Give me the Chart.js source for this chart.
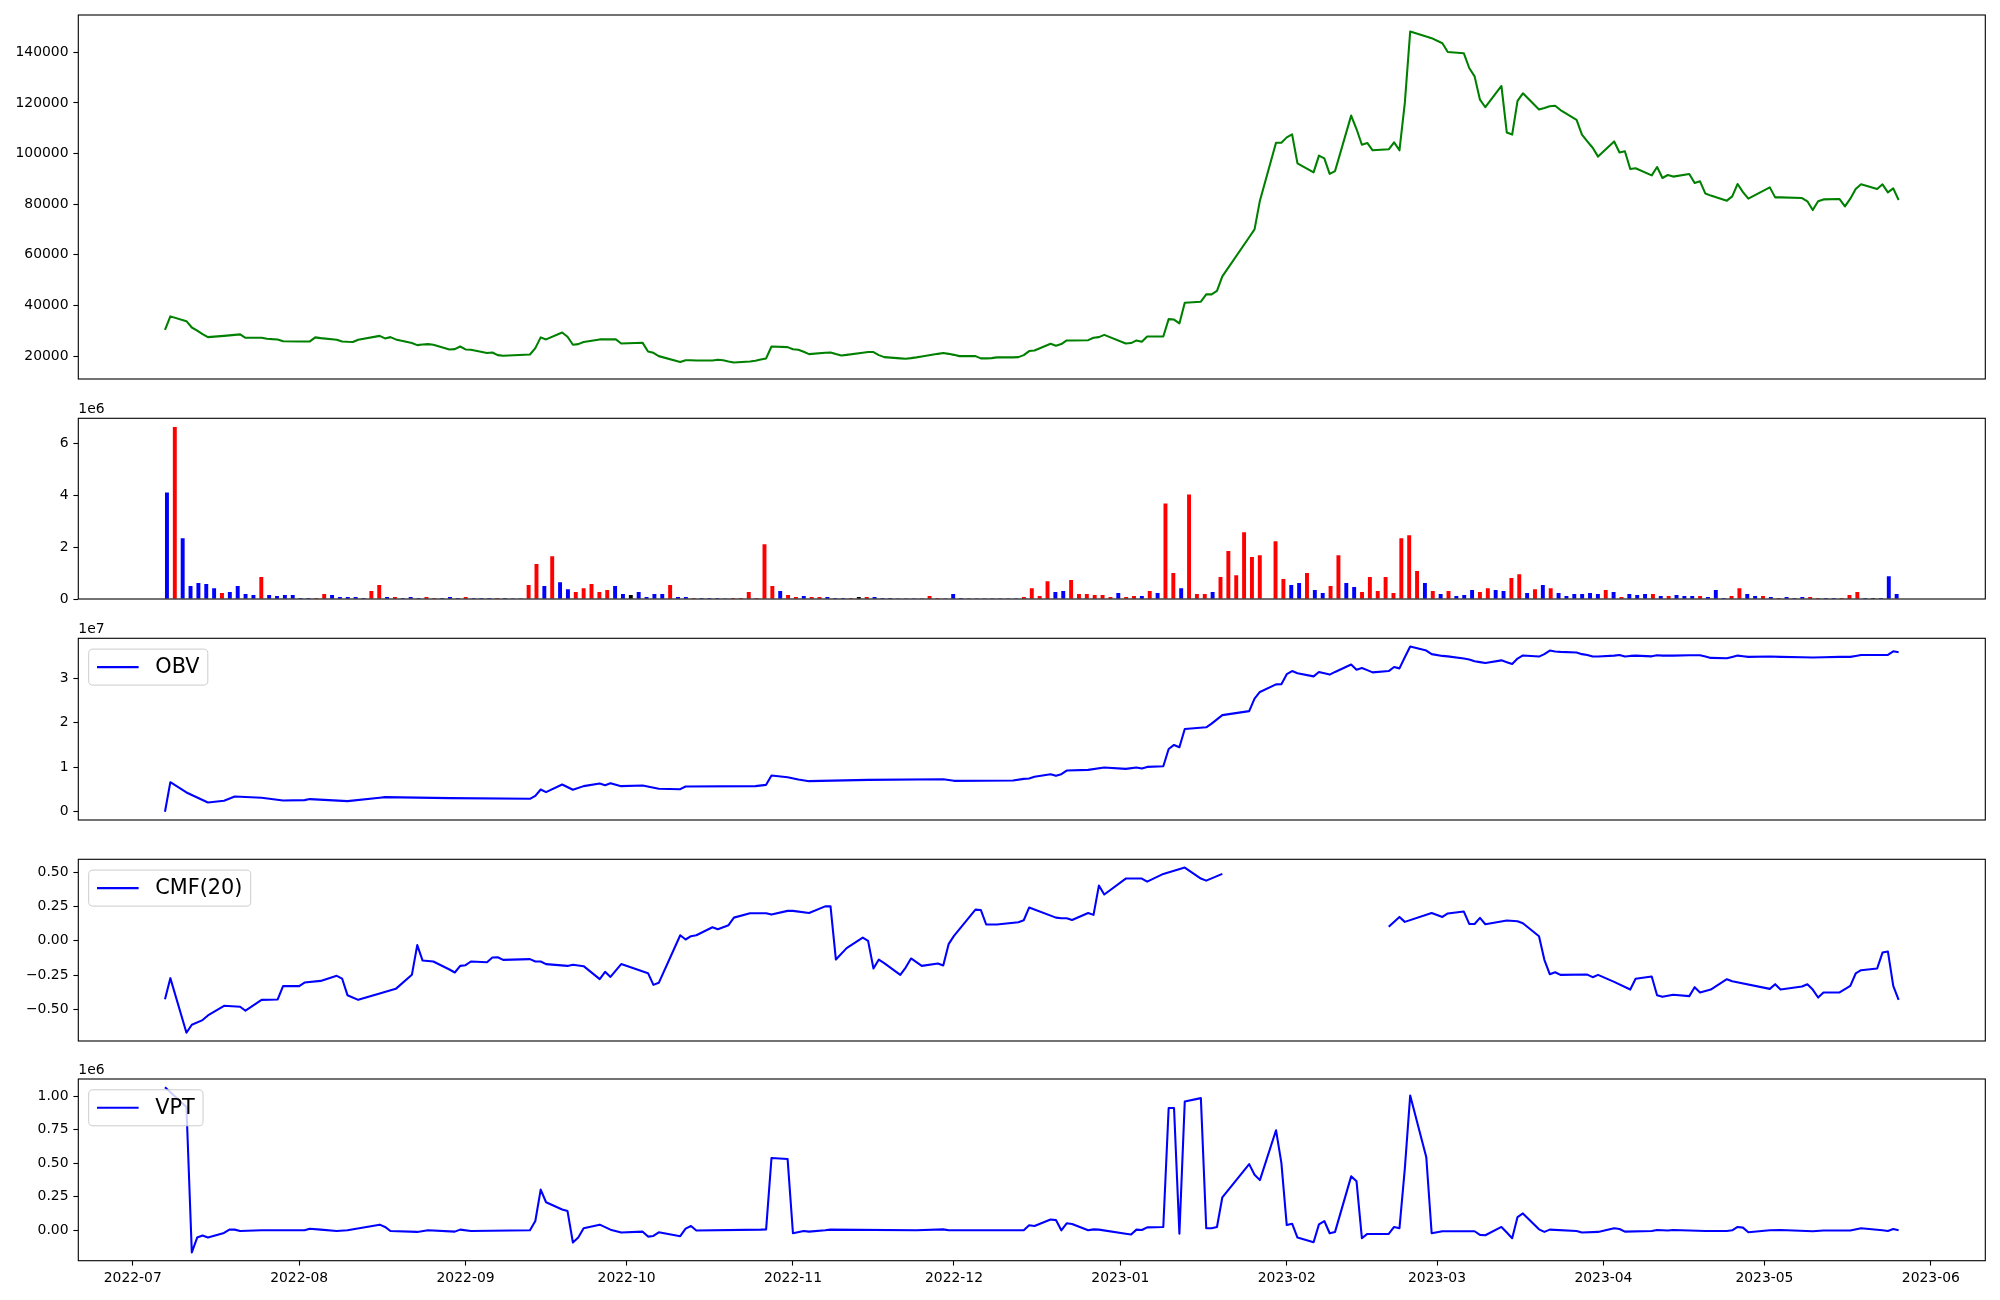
<!DOCTYPE html>
<html><head><meta charset="utf-8">
<script src="https://cdn.jsdelivr.net/npm/chart.js@4.4.1/dist/chart.umd.min.js"></script>
<style>
html,body{margin:0;padding:0;background:#fff;}
#wrap{position:relative;width:2000px;height:1300px;overflow:hidden;background:#fff;}
#wrap canvas{position:absolute;left:0;}
</style></head>
<body><div id="wrap">
<canvas id="cPrice"></canvas><canvas id="cVol"></canvas><canvas id="cObv"></canvas><canvas id="cCmf"></canvas><canvas id="cVpt"></canvas>
</div>
<script>
// ---------------- DATA ----------------
const dates = ("2022-07-07 2022-07-08 2022-07-11 2022-07-12 2022-07-13 2022-07-14 2022-07-15 2022-07-18 2022-07-19 2022-07-20 2022-07-21 2022-07-22 2022-07-25 2022-07-26 2022-07-27 2022-07-28 2022-07-29 " +
"2022-08-01 2022-08-02 2022-08-03 2022-08-04 2022-08-05 2022-08-08 2022-08-09 2022-08-10 2022-08-11 2022-08-12 2022-08-16 2022-08-17 2022-08-18 2022-08-19 2022-08-22 2022-08-23 2022-08-24 2022-08-25 2022-08-26 2022-08-29 2022-08-30 2022-08-31 " +
"2022-09-01 2022-09-02 2022-09-05 2022-09-06 2022-09-07 2022-09-08 2022-09-13 2022-09-14 2022-09-15 2022-09-16 2022-09-19 2022-09-20 2022-09-21 2022-09-22 2022-09-23 2022-09-26 2022-09-27 2022-09-28 2022-09-29 2022-09-30 " +
"2022-10-04 2022-10-05 2022-10-06 2022-10-07 2022-10-11 2022-10-12 2022-10-13 2022-10-14 2022-10-17 2022-10-18 2022-10-19 2022-10-20 2022-10-21 2022-10-24 2022-10-25 2022-10-26 2022-10-27 2022-10-28 2022-10-31 " +
"2022-11-01 2022-11-02 2022-11-03 2022-11-04 2022-11-07 2022-11-08 2022-11-09 2022-11-10 2022-11-11 2022-11-14 2022-11-15 2022-11-16 2022-11-17 2022-11-18 2022-11-21 2022-11-22 2022-11-23 2022-11-24 2022-11-25 2022-11-28 2022-11-29 2022-11-30 " +
"2022-12-01 2022-12-02 2022-12-05 2022-12-06 2022-12-07 2022-12-08 2022-12-09 2022-12-12 2022-12-13 2022-12-14 2022-12-15 2022-12-16 2022-12-19 2022-12-20 2022-12-21 2022-12-22 2022-12-23 2022-12-26 2022-12-27 2022-12-28 2022-12-29 " +
"2023-01-02 2023-01-03 2023-01-04 2023-01-05 2023-01-06 2023-01-09 2023-01-10 2023-01-11 2023-01-12 2023-01-13 2023-01-16 2023-01-17 2023-01-18 2023-01-19 2023-01-20 2023-01-25 2023-01-26 2023-01-27 2023-01-30 2023-01-31 " +
"2023-02-01 2023-02-02 2023-02-03 2023-02-06 2023-02-07 2023-02-08 2023-02-09 2023-02-10 2023-02-13 2023-02-14 2023-02-15 2023-02-16 2023-02-17 2023-02-20 2023-02-21 2023-02-22 2023-02-23 2023-02-24 2023-02-27 2023-02-28 " +
"2023-03-02 2023-03-03 2023-03-06 2023-03-07 2023-03-08 2023-03-09 2023-03-10 2023-03-13 2023-03-14 2023-03-15 2023-03-16 2023-03-17 2023-03-20 2023-03-21 2023-03-22 2023-03-23 2023-03-24 2023-03-27 2023-03-28 2023-03-29 2023-03-30 2023-03-31 " +
"2023-04-03 2023-04-04 2023-04-05 2023-04-06 2023-04-07 2023-04-10 2023-04-11 2023-04-12 2023-04-13 2023-04-14 2023-04-17 2023-04-18 2023-04-19 2023-04-20 2023-04-21 2023-04-24 2023-04-25 2023-04-26 2023-04-27 2023-04-28 " +
"2023-05-02 2023-05-03 2023-05-04 2023-05-08 2023-05-09 2023-05-10 2023-05-11 2023-05-12 2023-05-15 2023-05-16 2023-05-17 2023-05-18 2023-05-19 2023-05-22 2023-05-23 2023-05-24 2023-05-25 2023-05-26").split(" ");

const closePrice = [
30400,35700,33800,31300,30100,28700,27500,28000,28200,28400,
28600,27250,27250,26850,26700,26600,25900,25800,25800,25800,
27400,27100,26450,25800,25650,25550,26450,28000,27000,27500,
26600,25150,24350,24600,24750,24500,22650,22750,23800,22650,
22500,21200,21450,20400,20150,20650,23150,27400,26600,29350,
27650,24500,24750,25550,26600,26600,26600,26600,25000,25250,
21850,21300,20000,17650,18400,18400,18300,18300,18550,18400,
17900,17500,17900,18150,18700,19100,23800,23550,22750,22500,
21700,20800,21300,21450,20800,20250,20500,21300,21600,21600,
20400,19600,19100,18950,19200,19500,19850,20900,21200,20900,
20500,20000,20000,19100,19100,19200,19500,19500,19600,20400,
22000,22250,24900,24100,24750,26200,26200,26300,27250,27500,
28400,25000,25150,26200,25650,27750,27750,34600,34450,32900,
41100,41500,44400,44400,45800,51500,66950,70050,81400,104300,
104300,106400,107600,96150,92600,99200,98100,92000,93100,115000,
109700,103500,104200,101300,101700,104450,101300,120000,148200,146200,
145600,143600,140150,139600,133800,130500,121300,118300,126700,108300,
107500,120800,123800,117400,118000,118700,118900,117200,113300,107500,
104800,102300,98800,104800,100400,100900,93900,94200,91400,94700,
90350,91550,90900,91950,88400,89050,84200,83400,81400,83100,
88000,84800,82200,86650,82700,82700,82450,81150,77700,81150,
81900,82050,79150,82200,86000,87850,86000,87850,84700,86250,
81650];

// volume in millions of shares
const volumeM = [
4.12,6.65,2.35,0.50,0.62,0.58,0.42,0.23,0.27,0.50,
0.19,0.15,0.85,0.15,0.12,0.15,0.15,0.04,0.04,0.04,
0.19,0.15,0.08,0.08,0.08,0.04,0.31,0.54,0.08,0.08,
0.04,0.08,0.04,0.08,0.04,0.04,0.08,0.04,0.08,0.04,
0.04,0.04,0.04,0.04,0.01,0.01,0.54,1.35,0.50,1.65,
0.65,0.38,0.27,0.42,0.58,0.27,0.35,0.50,0.19,0.15,
0.27,0.08,0.19,0.19,0.54,0.08,0.08,0.04,0.04,0.04,
0.04,0.01,0.04,0.04,0.27,0.04,2.12,0.50,0.31,0.15,
0.08,0.12,0.08,0.08,0.08,0.04,0.04,0.04,0.08,0.08,
0.08,0.04,0.04,0.01,0.01,0.01,0.01,0.12,0.04,0.01,
0.19,0.04,0.01,0.01,0.01,0.01,0.01,0.01,0.01,0.08,
0.42,0.12,0.69,0.27,0.31,0.73,0.19,0.19,0.15,0.15,
0.08,0.23,0.08,0.12,0.12,0.31,0.23,3.69,1.00,0.42,
4.04,0.19,0.19,0.27,0.85,1.85,0.92,2.58,1.62,1.69,
0,2.23,0.77,0.54,0.62,1.00,0.35,0.23,0.50,1.69,
0.62,0.46,0.27,0.85,0.31,0.85,0.23,2.35,2.46,1.08,
0.62,0.31,0.19,0.31,0.12,0.15,0.35,0.27,0.42,0.35,
0.31,0.81,0.96,0.23,0.38,0.54,0.42,0.23,0.12,0.19,
0.19,0.23,0.19,0.35,0.27,0.08,0.19,0.15,0.19,0.19,
0.12,0.12,0.15,0.12,0.12,0.12,0.08,0.35,0.04,0.12,
0.42,0.19,0.12,0.12,0.08,0.04,0.08,0.04,0.08,0.08,
0.04,0.04,0.04,0.04,0.15,0.27,0.04,0.04,0.04,0.88,
0.19];
// r = up day, b = down day, k = unchanged
const volumeDir = ("brbbbbbrbb"+"bbrbbbbbbr"+"rbbbbbrrbr"+"bbbrrbbbrb"+"bbrbbbrrbr"+"bbrrrrrbbk"+"bbbbrbbrbb"+"bbrrrrrrbr"+"rbrrbbbrkr"+"bbbbbbbrrb"+
"bbbbbbbbbr"+"rrrbbrrrrr"+"rbrrbrbrrb"+"rrrbrrrrrr"+"krrbbrbbrr"+"bbrrrrrrrr"+"brbrbbbrrb"+"brrbrbrbbb"+"bbbrbrbbbr"+"brbbbrbbbr"+
"rbbrbrbbbr"+"rbbrrrbkbb"+"b").split("");

// OBV (millions), at trading-day indices
const obvIdx = [0,1,2,6,7,9,12,16,18,19,24,27,28,36,45,46,47,48,49,51,53,54,55,56,58,59,62,63,64,73,75,76,77,79,81,88,98,100,107,109,
110,111,112,113,114,115,117,120,121,123,124,125,126,127,128,129,130,132,133,135,136,137,138,139,140,141,142,143,144,145,
146,147,148,149,150,151,152,153,154,155,156,157,158,159,160,161,162,163,164,165,166,167,168,169,170,171,172,173,174,175,
176,177,178,179,180,181,182,183,184,185,186,187,188,189,190,192,193,195,196,197,198,199,200,201,202,203,205,206,208,210,
211,213,214,215,218,219,220];
const obvM = [0,6.64,4.33,2.09,2.46,3.43,3.13,2.54,2.61,2.84,2.39,3.13,3.28,3.06,2.91,3.58,5.0,4.4,6.12,4.93,
5.75,6.34,5.97,6.42,5.75,5.90,5.15,5.07,5.67,5.75,6.04,8.13,7.76,7.24,6.87,7.16,7.31,6.94,7.01,7.38,
7.46,7.84,8.43,8.06,8.43,9.25,9.40,9.93,9.63,9.93,9.70,10.07,10.22,14.1,15.0,14.48,18.58,18.96,19.78,21.7,
22.6,25.4,26.9,28.6,28.66,30.9,31.6,31.1,30.4,31.4,31.1,30.8,31.4,33.06,31.9,32.3,31.8,31.3,31.6,32.5,
32.2,34.7,37.1,36.2,35.4,35.0,34.9,34.4,34.2,33.8,33.6,33.4,34.0,33.6,33.2,34.4,35.1,34.85,35.4,36.2,
36.0,35.9,35.75,35.4,35.2,34.85,34.85,35.07,35.2,34.85,35.0,35.07,34.9,35.15,35.07,35.07,35.15,35.15,34.85,34.55,
34.48,34.78,35.07,34.93,34.78,34.85,34.78,34.7,34.63,34.7,34.78,34.78,35.0,35.2,35.22,36.04,35.82];

// CMF(20), null = undefined stretch
const cmfIdx = [0,1,2,3,5,6,7,10,11,12,15,16,17,18,21,22,23,24,26,27,30,31,32,33,35,36,37,38,39,40,
41,42,43,44,45,46,47,48,50,51,53,54,55,56,58,60,61,62,63,64,65,66,67,68,70,71,72,75,76,77,
78,81,82,83,84,86,87,88,89,90,91,92,93,94,96,97,98,99,100,102,103,104,106,108,109,110,113,114,115,116,
117,118,119,120,121,124,125,126,130,131,132,135,136,154,156,157,160,161,162,163,164,165,166,167,169,171,172,173,174,175,
176,177,180,181,182,183,186,187,188,189,190,192,193,194,195,197,198,199,203,204,205,206,207,208,209,210,211,213,214,215,
216,217,218,219,220];
const cmfVal = [-0.424,-0.271,-0.668,-0.610,-0.576,-0.542,-0.472,-0.479,-0.508,-0.429,
-0.426,-0.329,-0.329,-0.303,-0.291,-0.254,-0.274,-0.395,-0.429,-0.383,
-0.349,-0.247,-0.031,-0.143,-0.150,-0.208,-0.230,-0.182,-0.177,-0.150,
-0.155,-0.121,-0.119,-0.138,-0.133,-0.150,-0.150,-0.169,-0.182,-0.174,
-0.184,-0.278,-0.225,-0.262,-0.169,-0.235,-0.320,-0.305,0.041,0.010,
0.034,0.041,0.099,0.085,0.114,0.169,0.201,0.201,0.191,0.218,
0.218,0.203,0.251,0.251,-0.136,-0.053,0.024,0.000,-0.201,-0.136,
-0.162,-0.247,-0.194,-0.128,-0.182,-0.165,-0.179,-0.024,0.036,0.227,
0.225,0.119,0.119,0.136,0.150,0.242,0.169,0.164,0.164,0.152,
0.203,0.189,0.402,0.337,0.453,0.453,0.431,0.487,0.533,0.453,
0.438,0.487,null,0.102,0.174,0.138,0.203,0.174,0.199,0.213,
0.123,0.123,0.167,0.121,0.148,0.143,0.128,0.034,-0.138,-0.242,
-0.228,-0.247,-0.245,-0.264,-0.247,-0.298,-0.354,-0.276,-0.259,-0.395,
-0.407,-0.392,-0.402,-0.337,-0.375,-0.354,-0.279,-0.293,-0.349,-0.315,
-0.354,-0.332,-0.315,-0.354,-0.412,-0.375,-0.375,-0.327,-0.237,-0.213,
-0.201,-0.085,-0.077,-0.327,-0.429];

// VPT (millions)
const vptIdx = [0,2,3,4,5,6,7,8,9,10,12,18,19,21,22,24,27,28,29,32,34,37,38,40,45,46,47,48,49,50,
51,52,53,54,56,58,59,60,61,62,63,64,65,66,74,75,76,77,78,80,81,82,83,95,98,99,109,110,111,112,
113,114,115,116,117,118,119,121,122,123,124,125,126,127,128,129,130,131,132,133,134,135,136,137,138,139,140,141,142,143,
144,145,146,147,148,149,150,151,152,154,155,156,157,158,159,160,161,165,166,167,168,169,170,171,172,173,174,175,178,179,
182,183,184,185,188,189,191,192,196,198,199,200,201,202,203,205,208,210,213,215,217,218,219,220];
const vptM = [1.066,0.919,-0.165,-0.054,-0.039,-0.054,-0.020,0.005,0.005,-0.005,
0.0,0.0,0.012,0.005,-0.005,0.0,0.042,0.025,-0.005,-0.012,
0.0,-0.010,0.005,-0.005,0.0,0.069,0.303,0.209,0.155,0.143,
-0.091,-0.054,0.015,0.042,0.005,-0.017,-0.010,-0.047,-0.042,-0.015,
-0.044,0.012,0.032,-0.002,0.005,0.007,0.539,0.532,-0.022,-0.005,
-0.010,0.0,0.005,0.0,0.007,0.0,0.0,0.037,0.032,0.081,
0.076,0.0,0.052,0.047,0.0,0.007,0.005,-0.025,-0.032,0.005,
0.002,0.022,0.025,0.911,0.911,-0.025,0.960,0.985,0.015,0.015,
0.025,0.246,0.493,0.414,0.374,0.746,0.502,0.039,0.049,-0.054,
-0.089,0.044,0.069,-0.022,-0.012,0.402,0.365,-0.059,-0.027,-0.027,
0.025,0.015,0.46,1.005,0.544,-0.022,-0.007,-0.007,-0.034,-0.037,
0.025,-0.017,-0.059,0.099,0.126,0.007,-0.012,0.005,-0.005,-0.017,
-0.012,0.015,0.010,-0.010,-0.005,0.002,-0.002,0.002,-0.005,-0.005,
0.0,0.025,0.020,-0.015,0.0,0.002,-0.007,-0.002,-0.002,0.015,
0.0,-0.005,0.010,0.0];

// tick values and labels
const priceTicks = [20000,40000,60000,80000,100000,120000,140000];
const priceTickLabels = ["20000","40000","60000","80000","100000","120000","140000"];
const volTicks = [0,2,4,6];
const volTickLabels = ["0","2","4","6"];
const obvTicks = [0,10,20,30];
const obvTickLabels = ["0","1","2","3"];
const cmfTicks = [-0.5,-0.25,0,0.25,0.5];
const cmfTickLabels = ["\u22120.50","\u22120.25","0.00","0.25","0.50"];
const vptTicks = [0,0.25,0.5,0.75,1.0];
const vptTickLabels = ["0.00","0.25","0.50","0.75","1.00"];
const monthTicks = ["2022-07","2022-08","2022-09","2022-10","2022-11","2022-12","2023-01","2023-02","2023-03","2023-04","2023-05","2023-06"];
const volOffsetText = "1e6", obvOffsetText = "1e7", vptOffsetText = "1e6";
const obvLabel = "OBV", cmfLabel = "CMF(20)", vptLabel = "VPT";

// ---------------- LAYOUT / STYLE ----------------
const L = 78.3, R = 1985.3, FS = 13.9;
const GEO = { price:[15,379], vol:[418.3,599], obv:[638.3,820], cmf:[859.3,1041], vpt:[1079,1260.7] };
const dirColor = { r:'#ff0000', b:'#0000ff', k:'#000000' };

Chart.defaults.font.family = "'DejaVu Sans', sans-serif";
Chart.defaults.font.size = FS;
Chart.defaults.color = '#000';

const framePlugin = { id:'frame', afterDatasetsDraw(chart){
  const a = chart.chartArea, ctx = chart.ctx;
  ctx.save(); ctx.strokeStyle = '#000'; ctx.lineWidth = 1.1;
  ctx.strokeRect(a.left, a.top, a.right - a.left, a.bottom - a.top); ctx.restore();
}};
const offsetPlugin = { id:'offsetText', afterDraw(chart, args, opts){
  if (!opts || !opts.text) return;
  const a = chart.chartArea, ctx = chart.ctx;
  ctx.save(); ctx.font = FS + "px 'DejaVu Sans'"; ctx.fillStyle = '#000';
  ctx.textAlign = 'left'; ctx.textBaseline = 'alphabetic';
  ctx.fillText(opts.text, a.left, a.top - 5.5); ctx.restore();
}};
const boxLegendPlugin = { id:'boxLegend', afterDraw(chart, args, opts){
  if (!opts || !opts.show) return;
  const ds = chart.data.datasets[0];
  const a = chart.chartArea, ctx = chart.ctx, fs = 20.8;
  ctx.save();
  ctx.font = fs + "px 'DejaVu Sans'";
  const tw = ctx.measureText(ds.label).width;
  const pad = 0.4*fs, hl = 2*fs, htp = 0.8*fs;
  const x0 = a.left + 10.4, y0 = a.top + 10.8, w = pad + hl + htp + tw + pad, h = 36, r = 4.2;
  ctx.beginPath();
  ctx.moveTo(x0 + r, y0); ctx.lineTo(x0 + w - r, y0); ctx.quadraticCurveTo(x0 + w, y0, x0 + w, y0 + r);
  ctx.lineTo(x0 + w, y0 + h - r); ctx.quadraticCurveTo(x0 + w, y0 + h, x0 + w - r, y0 + h);
  ctx.lineTo(x0 + r, y0 + h); ctx.quadraticCurveTo(x0, y0 + h, x0, y0 + h - r);
  ctx.lineTo(x0, y0 + r); ctx.quadraticCurveTo(x0, y0, x0 + r, y0); ctx.closePath();
  ctx.fillStyle = 'rgba(255,255,255,0.8)'; ctx.fill();
  ctx.strokeStyle = '#cccccc'; ctx.lineWidth = 1; ctx.stroke();
  const cy = y0 + h/2;
  ctx.beginPath(); ctx.moveTo(x0 + pad, cy); ctx.lineTo(x0 + pad + hl, cy);
  ctx.strokeStyle = ds.borderColor; ctx.lineWidth = ds.borderWidth; ctx.stroke();
  ctx.fillStyle = '#000'; ctx.textAlign = 'left'; ctx.textBaseline = 'middle';
  ctx.fillText(ds.label, x0 + pad + hl + htp, cy + 1);
  ctx.restore();
}};
Chart.register(framePlugin, offsetPlugin, boxLegendPlugin);

// ---------------- HELPERS ----------------
const dayNum = s => Date.UTC(+s.slice(0,4), +s.slice(5,7) - 1, +s.slice(8,10)) / 86400000;
const xs = dates.map(dayNum);
const xSpan = xs[xs.length-1] - xs[0];
const xMin = xs[0] - 0.05*xSpan, xMax = xs[xs.length-1] + 0.05*xSpan;
const BAR_W = 0.5, nBars = volumeM.length, bSpan = (nBars - 1) + BAR_W;
const bMin = -BAR_W/2 - 0.05*bSpan, bMax = nBars - 1 + BAR_W/2 + 0.05*bSpan;

function padRange(vals){ const v = vals.filter(x => x !== null); const lo = Math.min(...v), hi = Math.max(...v); const d = (hi - lo)*0.05; return [lo - d, hi + d]; }

function setupCanvas(id, geo, withX){
  const [T, B] = geo, c = document.getElementById(id);
  const top = Math.max(0, Math.floor(T - 15));
  const h = withX ? 1300 - top : Math.ceil(B + 15) - top;
  c.width = 2000; c.height = h; c.style.top = top + 'px';
  c.style.width = '2000px'; c.style.height = h + 'px';
  return { ctx: c.getContext('2d'), padTop: T - top, padBottom: withX ? 0 : h - (B - top), xH: 1300 - B };
}
const gridCfg = { display:true, drawOnChartArea:false, drawTicks:true, tickLength:4.9, tickWidth:1.1, tickColor:'#000', color:'#000' };
function yAxis(range, tv, tl){
  return { type:'linear', position:'left', min:range[0], max:range[1],
    afterBuildTicks: s => { s.ticks = tv.map(v => ({value:v})); },
    afterFit: s => { s.width = L; },
    ticks:{ autoSkip:false, padding:4.9, callback:(v,i) => tl[i] },
    grid: gridCfg, border:{display:false} };
}
function xHidden(min, max){ return { type:'linear', min, max, display:false, offset:false }; }
function xDates(h){
  return { type:'linear', position:'bottom', min:xMin, max:xMax, offset:false,
    afterBuildTicks: s => { s.ticks = monthTicks.map(m => ({value: dayNum(m + '-01')})); },
    afterFit: s => { s.height = h; },
    ticks:{ autoSkip:false, maxRotation:0, minRotation:0, padding:4.9, callback:(v,i) => monthTicks[i] },
    grid: gridCfg, border:{display:false} };
}
function opts(g, xScale, yScale, plug){
  return { responsive:false, animation:false, devicePixelRatio:1, events:[],
    layout:{ padding:{ left:0, right:2000 - R, top:g.padTop, bottom:g.padBottom } },
    scales:{ x:xScale, y:yScale },
    plugins: Object.assign({ legend:{display:false}, tooltip:{enabled:false} }, plug) };
}
function lineDs(label, pts, color){
  return { label, data: pts, borderColor: color, borderWidth: 2.08, pointRadius: 0, pointHoverRadius: 0,
    tension: 0, fill: false, spanGaps: false, borderJoinStyle: 'round' };
}
const sparse = (idx, vals) => idx.map((ix, k) => ({ x: xs[ix], y: vals[k] }));

// ---------------- CHARTS ----------------
let g = setupCanvas('cPrice', GEO.price, false);
new Chart(g.ctx, { type:'line',
  data:{ datasets:[ lineDs('Close', closePrice.map((v,i) => ({x: xs[i], y: v})), '#008000') ] },
  options: opts(g, xHidden(xMin, xMax), yAxis(padRange(closePrice), priceTicks, priceTickLabels), {}) });

g = setupCanvas('cVol', GEO.vol, false);
new Chart(g.ctx, { type:'bar',
  data:{ datasets:[{ label:'Volume', data: volumeM.map((v,i) => ({x:i, y:v})),
    backgroundColor: volumeDir.map(c => dirColor[c]), borderWidth:0,
    barPercentage: BAR_W, categoryPercentage: 1 }] },
  options: opts(g, xHidden(bMin, bMax), yAxis([0, Math.max(...volumeM)*1.05], volTicks, volTickLabels), { offsetText:{text: volOffsetText} }) });

g = setupCanvas('cObv', GEO.obv, false);
new Chart(g.ctx, { type:'line',
  data:{ datasets:[ lineDs(obvLabel, sparse(obvIdx, obvM), '#0000ff') ] },
  options: opts(g, xHidden(xMin, xMax), yAxis(padRange(obvM), obvTicks, obvTickLabels), { offsetText:{text: obvOffsetText}, boxLegend:{show:true} }) });

g = setupCanvas('cCmf', GEO.cmf, false);
new Chart(g.ctx, { type:'line',
  data:{ datasets:[ lineDs(cmfLabel, sparse(cmfIdx, cmfVal), '#0000ff') ] },
  options: opts(g, xHidden(xMin, xMax), yAxis(padRange(cmfVal), cmfTicks, cmfTickLabels), { boxLegend:{show:true} }) });

g = setupCanvas('cVpt', GEO.vpt, true);
new Chart(g.ctx, { type:'line',
  data:{ datasets:[ lineDs(vptLabel, sparse(vptIdx, vptM), '#0000ff') ] },
  options: opts(g, xDates(g.xH), yAxis(padRange(vptM), vptTicks, vptTickLabels), { offsetText:{text: vptOffsetText}, boxLegend:{show:true} }) });
</script>
</body></html>
